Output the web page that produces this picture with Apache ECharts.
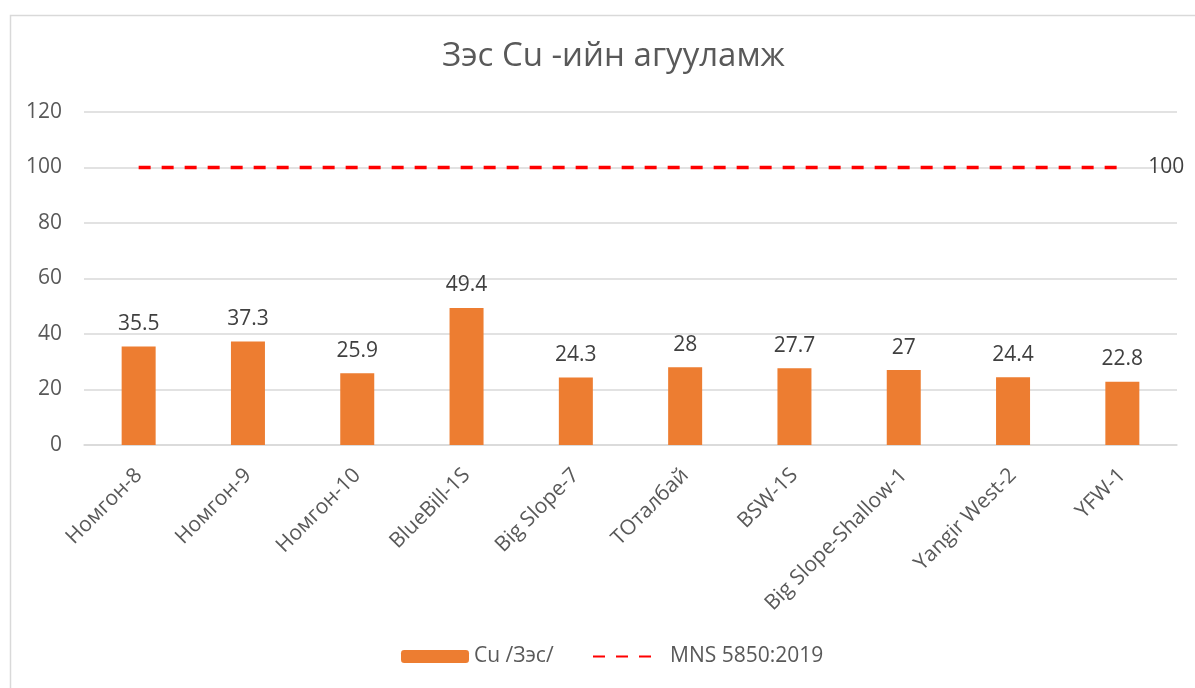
<!DOCTYPE html>
<html>
<head>
<meta charset="utf-8">
<script src="https://cdn.jsdelivr.net/npm/echarts@6/dist/echarts.min.js"></script>
<style>html,body{margin:0;padding:0;background:#fff}#c{width:1195px;height:688px}</style>
</head>
<body>
<div id="c"></div>
<script>
const categories = ['Номгон-8','Номгон-9','Номгон-10','BlueBill-1S','Big Slope-7','ТОталбай','BSW-1S','Big Slope-Shallow-1','Yangir West-2','YFW-1'];
const cuValues = [35.5, 37.3, 25.9, 49.4, 24.3, 28, 27.7, 27, 24.4, 22.8];
const mnsValues = [100, 100, 100, 100, 100, 100, 100, 100, 100, 100];
const yTicks = [0, 20, 40, 60, 80, 100, 120];
const titleText = 'Зэс Cu -ийн агууламж';
const seriesNames = ['Cu /Зэс/', 'MNS 5850:2019'];

const FONT = '"Open Sans", sans-serif';
const chart = echarts.init(document.getElementById('c'), null, {renderer: 'canvas'});
chart.setOption({
  animation: false,
  backgroundColor: '#fff',
  textStyle: {fontFamily: FONT},
  graphic: [{
    type: 'rect', left: 8, top: 13, silent: true,
    shape: {x: 0, y: 0, width: 1200, height: 700},
    style: {fill: 'none', stroke: '#D9D9D9', lineWidth: 1.5}
  }],
  title: {
    text: titleText, left: 437, top: 35,
    textStyle: {fontFamily: FONT, fontSize: 33, fontWeight: 'normal', color: '#595959'}
  },
  legend: [{
    data: [seriesNames[0]], left: 401, top: 646, padding: 0, itemWidth: 68, itemHeight: 13, itemGap: 7,
    textStyle: {fontFamily: FONT, fontSize: 21, color: '#595959'}
  }, {
    data: [seriesNames[1]], left: 592, top: 646, padding: 0, itemWidth: 60, itemHeight: 13,
    itemStyle: {opacity: 0},
    textStyle: {fontFamily: FONT, fontSize: 21, color: '#595959', padding: [0,0,0,12]}
  }],
  grid: {left: 84, right: 18, top: 112, bottom: 243, containLabel: false},
  xAxis: {
    type: 'category', data: categories, boundaryGap: true,
    axisLine: {lineStyle: {color: '#D9D9D9', width: 1.5}},
    axisTick: {show: false},
    axisLabel: {rotate: 45, margin: 27, interval: 0, fontFamily: FONT, fontSize: 21, color: '#595959'}
  },
  yAxis: {
    type: 'value', min: yTicks[0], max: yTicks[yTicks.length-1], interval: 20,
    axisLine: {show: false}, axisTick: {show: false},
    splitLine: {lineStyle: {color: '#D9D9D9', width: 1.5}},
    axisLabel: {margin: 22, fontFamily: FONT, fontSize: 21, color: '#595959'}
  },
  series: [{
    name: seriesNames[0], type: 'bar', data: cuValues, barWidth: 34,
    itemStyle: {color: '#ED7D31'},
    label: {show: true, position: 'top', distance: 12, fontFamily: FONT, fontSize: 21, color: '#404040'}
  }, {
    name: seriesNames[1], type: 'line', data: mnsValues, symbol: 'none',
    itemStyle: {color: '#FF0000'},
    lineStyle: {color: '#FF0000', width: 3.5, type: [12, 11]},
    endLabel: {show: true, distance: 26, fontFamily: FONT, fontSize: 21, color: '#404040'}
  }]
});
</script>
</body>
</html>
